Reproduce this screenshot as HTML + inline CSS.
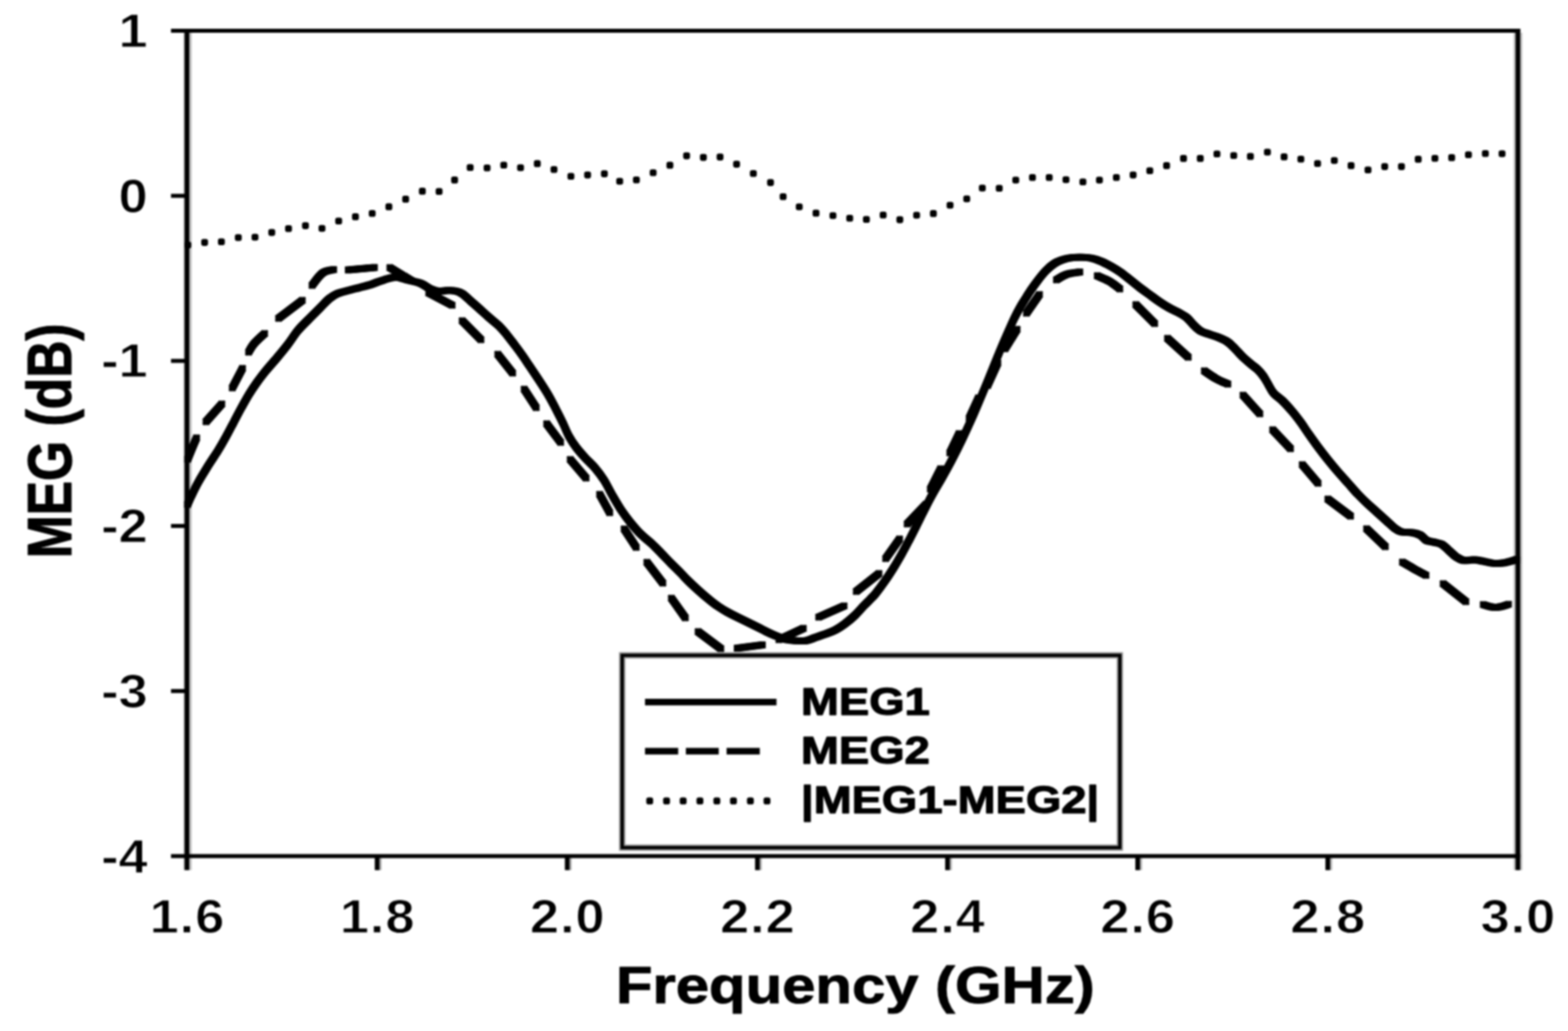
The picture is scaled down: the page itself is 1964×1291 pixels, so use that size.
<!DOCTYPE html>
<html lang="en"><head><meta charset="utf-8"><title>MEG vs Frequency</title>
<style>html,body{margin:0;padding:0;background:#fff;overflow:hidden}svg{display:block;filter:blur(1.1px)}text{font-family:"Liberation Sans", Arial, Helvetica, sans-serif;font-weight:bold;fill:#000}</style></head><body>
<svg xmlns="http://www.w3.org/2000/svg" width="1964" height="1291" viewBox="0 0 1964 1291">
<rect width="1964" height="1291" fill="#fff"/>
<g>
<rect x="229.7" y="41.0" width="10.5" height="1048.5" fill="#c4c4c4"/>
<rect x="1895.8" y="41.0" width="11.100000000000001" height="1048.5" fill="#c4c4c4"/>
<defs>
<g id="cv" fill="none" stroke="#000" stroke-width="3.2" stroke-linejoin="round" stroke-linecap="butt">
<path d="M234.4,633.0 C235.3,631.0 237.5,625.8 239.8,620.9 C242.1,616.1 245.0,609.8 248.4,603.7 C251.8,597.6 256.0,590.9 260.0,584.4 C264.0,577.9 268.8,571.0 272.6,565.0 C276.4,558.9 279.3,553.8 282.6,547.8 C285.9,541.9 289.1,535.7 292.4,529.4 C295.7,523.2 299.2,516.3 302.5,510.3 C305.8,504.4 308.9,498.7 312.0,493.6 C315.1,488.5 317.7,484.6 321.2,479.7 C324.7,474.9 328.4,469.9 332.8,464.5 C337.2,459.1 342.9,452.9 347.5,447.4 C352.1,441.9 356.1,437.1 360.4,431.5 C364.7,425.9 368.7,419.2 373.2,413.8 C377.7,408.4 382.7,403.8 387.3,399.1 C391.9,394.4 396.6,389.8 400.8,385.6 C405.0,381.4 408.8,376.9 412.4,374.0 C416.0,371.1 418.5,369.5 422.2,367.9 C425.9,366.3 430.0,365.4 434.4,364.2 C438.8,363.0 443.8,361.8 448.5,360.6 C453.2,359.4 458.2,358.2 462.6,356.9 C467.0,355.6 470.5,354.0 474.8,352.6 C479.1,351.2 484.4,349.2 488.3,348.3 C492.2,347.4 494.1,346.7 498.1,347.1 C502.1,347.6 507.4,349.7 512.2,351.0 C517.0,352.3 522.2,352.9 526.7,354.7 C531.2,356.5 535.7,360.3 539.5,362.0 C543.3,363.7 546.1,364.4 549.7,364.7 C553.3,365.0 557.7,363.6 561.2,363.6 C564.8,363.6 568.0,363.8 571.0,364.5 C574.0,365.2 576.5,366.1 579.5,368.1 C582.5,370.1 585.8,373.6 589.3,376.7 C592.8,379.8 596.5,383.0 600.4,386.5 C604.3,390.0 608.5,393.9 612.6,397.5 C616.7,401.1 621.1,404.3 624.8,407.9 C628.5,411.5 631.2,414.8 634.6,418.9 C638.0,423.0 641.5,427.8 645.0,432.4 C648.5,437.0 652.4,442.3 655.4,446.6 C658.4,450.9 659.9,453.4 663.3,458.4 C666.6,463.4 671.5,470.6 675.5,476.7 C679.5,482.8 683.5,489.0 687.1,495.1 C690.7,501.2 693.8,507.5 696.9,513.4 C700.0,519.3 702.9,525.1 705.5,530.6 C708.1,536.1 710.0,541.5 712.8,546.5 C715.5,551.5 718.5,555.9 722.0,560.5 C725.5,565.1 729.7,569.8 733.6,574.0 C737.5,578.2 741.5,581.5 745.3,586.0 C749.1,590.5 752.8,595.2 756.5,601.0 C760.2,606.8 763.8,614.6 767.5,621.0 C771.2,627.4 775.0,634.0 778.6,639.4 C782.2,644.8 785.0,648.5 789.0,653.4 C793.0,658.3 797.9,664.2 802.4,668.7 C806.9,673.2 811.6,676.4 815.9,680.4 C820.2,684.4 824.0,688.4 828.1,692.6 C832.2,696.8 836.3,701.2 840.4,705.4 C844.5,709.5 849.0,713.8 852.6,717.5 C856.2,721.2 858.6,723.9 862.2,727.5 C865.9,731.1 870.4,735.3 874.5,739.0 C878.6,742.7 882.6,746.2 886.7,749.5 C890.8,752.8 894.9,756.2 899.0,759.0 C903.1,761.8 907.1,764.2 911.2,766.5 C915.3,768.8 919.3,770.8 923.4,772.8 C927.5,774.8 931.6,776.7 935.7,778.7 C939.8,780.7 943.8,782.8 947.9,784.8 C952.0,786.8 956.0,789.0 960.1,791.0 C964.2,793.0 968.3,794.9 972.4,796.5 C976.5,798.1 980.5,799.8 984.6,800.8 C988.7,801.8 992.8,802.0 996.9,802.3 C1001.0,802.5 1005.0,803.0 1009.1,802.3 C1013.2,801.6 1017.2,799.7 1021.3,798.3 C1025.4,796.9 1029.5,795.5 1033.6,794.0 C1037.7,792.5 1041.7,791.2 1045.8,789.1 C1049.9,787.0 1054.0,784.2 1058.1,781.2 C1062.2,778.2 1066.2,774.9 1070.3,771.0 C1074.4,767.1 1079.2,761.4 1082.5,758.0 C1085.8,754.6 1087.6,753.0 1090.0,750.5 C1092.4,748.0 1093.9,746.8 1097.0,742.9 C1100.1,739.1 1104.9,732.7 1108.7,727.2 C1112.5,721.8 1116.2,716.0 1119.7,710.4 C1123.2,704.8 1126.2,699.5 1129.5,693.7 C1132.8,687.8 1136.2,681.3 1139.3,675.4 C1142.4,669.5 1145.1,664.1 1147.9,658.5 C1150.8,652.8 1153.8,646.7 1156.4,641.4 C1159.1,636.2 1161.3,631.5 1163.8,626.8 C1166.2,622.1 1168.5,618.0 1171.1,613.4 C1173.7,608.8 1175.8,605.5 1179.5,599.1 C1183.2,592.6 1188.7,582.8 1193.0,574.5 C1197.3,566.3 1201.5,558.0 1205.5,549.6 C1209.5,541.2 1213.5,532.4 1217.2,524.2 C1220.9,516.0 1224.0,508.5 1227.5,500.2 C1231.0,491.9 1234.6,483.0 1238.1,474.5 C1241.6,466.0 1245.3,456.5 1248.3,449.3 C1251.3,442.1 1253.4,436.9 1255.9,431.1 C1258.4,425.3 1260.8,419.9 1263.2,414.5 C1265.6,409.1 1268.1,403.3 1270.5,398.4 C1272.9,393.5 1275.3,389.0 1277.5,385.1 C1279.7,381.2 1281.4,378.7 1283.6,375.1 C1285.8,371.6 1288.1,367.9 1290.7,364.0 C1293.3,360.1 1296.1,356.0 1299.3,351.9 C1302.5,347.7 1306.5,342.6 1310.0,339.0 C1313.5,335.4 1316.8,332.6 1320.1,330.4 C1323.4,328.1 1326.4,326.8 1330.1,325.5 C1333.8,324.2 1338.3,323.2 1342.4,322.7 C1346.5,322.1 1350.5,322.1 1354.6,322.2 C1358.7,322.3 1362.8,322.5 1366.9,323.3 C1371.0,324.1 1375.0,325.5 1379.1,327.2 C1383.2,328.9 1387.2,331.1 1391.3,333.4 C1395.4,335.7 1399.5,338.1 1403.6,341.0 C1407.7,343.9 1411.7,347.4 1415.8,350.6 C1419.9,353.8 1424.0,357.3 1428.1,360.4 C1432.2,363.5 1436.3,366.4 1440.3,369.3 C1444.3,372.2 1448.2,375.1 1452.2,377.8 C1456.2,380.5 1460.4,383.2 1464.5,385.5 C1468.6,387.8 1473.0,389.6 1476.7,391.6 C1480.4,393.6 1483.5,395.2 1486.5,397.7 C1489.5,400.1 1491.7,403.5 1494.5,406.3 C1497.3,409.1 1500.2,412.3 1503.6,414.3 C1507.0,416.3 1510.8,417.1 1514.7,418.5 C1518.6,419.9 1523.0,421.2 1526.9,422.8 C1530.8,424.4 1534.5,426.0 1537.9,428.3 C1541.3,430.6 1544.0,433.8 1547.1,436.9 C1550.2,440.0 1553.1,443.6 1556.3,446.7 C1559.5,449.8 1562.9,452.6 1566.1,455.3 C1569.2,458.0 1572.5,460.0 1575.2,462.6 C1578.0,465.2 1580.3,468.0 1582.6,471.2 C1584.8,474.4 1586.6,478.1 1588.7,481.6 C1590.8,485.2 1592.4,489.1 1595.4,492.5 C1598.4,495.9 1602.7,498.3 1606.5,502.0 C1610.3,505.7 1614.2,510.1 1618.0,514.5 C1621.8,518.9 1625.3,523.5 1629.0,528.5 C1632.7,533.5 1636.2,539.2 1640.0,544.5 C1643.8,549.8 1647.6,555.2 1651.5,560.5 C1655.4,565.8 1659.4,570.9 1663.5,576.0 C1667.6,581.1 1671.8,586.2 1676.0,591.0 C1680.2,595.8 1684.4,600.4 1688.5,605.0 C1692.6,609.6 1696.5,614.3 1700.5,618.5 C1704.5,622.7 1708.2,626.4 1712.2,630.2 C1716.2,634.0 1720.4,637.5 1724.5,641.2 C1728.6,644.9 1732.8,648.7 1736.7,652.2 C1740.6,655.7 1744.4,659.6 1747.7,662.0 C1751.0,664.4 1752.8,665.5 1756.3,666.3 C1759.8,667.1 1764.7,666.3 1768.5,666.9 C1772.3,667.5 1775.8,668.4 1778.9,670.0 C1782.0,671.6 1783.9,675.2 1786.9,676.7 C1789.9,678.2 1793.5,678.3 1796.7,679.1 C1799.9,679.9 1803.0,680.0 1805.9,681.6 C1808.9,683.2 1811.4,686.2 1814.4,688.9 C1817.5,691.5 1821.0,695.4 1824.2,697.5 C1827.4,699.6 1829.6,701.2 1833.4,701.8 C1837.2,702.4 1842.6,700.7 1846.9,700.9 C1851.2,701.1 1855.0,702.2 1859.1,703.0 C1863.2,703.8 1867.2,705.2 1871.3,705.5 C1875.4,705.8 1879.5,705.4 1883.6,704.8 C1887.7,704.2 1892.8,702.6 1895.8,701.8 C1898.8,701.0 1900.4,700.3 1901.3,700.0"/>
<path d="M234.6,576.4 C235.6,574.0 238.4,567.0 240.4,562.1 C242.4,557.2 245.7,549.5 246.8,547.0"/>
<path d="M257.1,529.1 L278.8,504.8"/>
<path d="M290.3,486.9 L304.4,460.1"/>
<path d="M310.7,442.2 C311.9,440.2 314.6,434.7 318.2,430.4 C321.8,426.1 330.1,418.9 332.5,416.6"/>
<path d="M347.8,399.5 L379.8,375.2"/>
<path d="M390.0,358.6 C392.3,355.8 399.1,345.4 404.0,341.9 C408.9,338.3 416.8,338.1 419.4,337.3"/>
<path d="M434.7,338.1 L470.5,334.8"/>
<path d="M487.1,334.3 L516.5,352.2"/>
<path d="M535.7,366.2 L567.6,382.8"/>
<path d="M577.9,400.7 L603.4,426.3"/>
<path d="M622.6,442.6 L643.0,468.2"/>
<path d="M655.8,486.1 L672.4,511.6"/>
<path d="M683.9,529.5 L703.1,555.1"/>
<path d="M713.3,574.3 L735.0,599.8"/>
<path d="M750.4,617.7 L764.4,643.3"/>
<path d="M781.0,661.2 L797.7,686.7"/>
<path d="M809.4,703.1 L831.1,731.3"/>
<path d="M840.1,747.9 L859.2,774.7"/>
<path d="M873.3,790.1 L904.0,813.1"/>
<path d="M921.9,811.8 L956.4,807.4"/>
<path d="M974.3,801.6 L1007.5,786.2"/>
<path d="M1024.1,773.4 L1058.6,758.1"/>
<path d="M1071.4,741.5 L1102.1,717.2"/>
<path d="M1108.5,700.6 L1127.6,673.8"/>
<path d="M1135.3,657.1 L1160.9,630.3"/>
<path d="M1164.7,613.7 L1178.8,585.6"/>
<path d="M1189.1,568.4 L1201.9,541.6"/>
<path d="M1213.4,524.9 L1226.2,496.8"/>
<path d="M1236.4,484.0 L1250.4,453.4"/>
<path d="M1258.1,438.0 L1274.7,411.2"/>
<path d="M1284.9,393.3 L1302.8,367.7"/>
<path d="M1322.0,351.1 C1324.3,349.8 1330.8,345.3 1336.1,343.5 C1341.4,341.7 1351.0,340.9 1354.0,340.4"/>
<path d="M1373.1,344.7 C1375.9,346.0 1384.7,349.4 1389.8,352.4 C1394.9,355.4 1401.5,360.9 1403.8,362.6"/>
<path d="M1421.7,380.5 L1447.3,406.1"/>
<path d="M1461.3,422.7 L1489.4,448.3"/>
<path d="M1507.3,463.6 C1509.9,465.3 1517.4,470.8 1522.7,473.8 C1528.0,476.8 1536.5,480.2 1539.3,481.5"/>
<path d="M1556.0,493.8 L1579.0,519.3"/>
<path d="M1593.1,537.2 L1617.4,562.8"/>
<path d="M1630.2,580.7 L1651.9,606.2"/>
<path d="M1662.1,624.1 L1692.8,647.1"/>
<path d="M1710.7,661.2 L1736.2,685.5"/>
<path d="M1755.4,703.1 C1758.0,704.6 1765.4,709.1 1770.7,712.1 C1776.0,715.1 1784.6,719.5 1787.4,721.0"/>
<path d="M1806.5,730.0 L1837.2,754.3"/>
<path d="M1856.4,756.8 C1859.2,757.4 1867.2,760.8 1873.0,760.7 C1878.8,760.6 1887.9,757.0 1890.9,756.3"/>
</g>
</defs>
<use href="#cv" x="-2.75" y="-2.75"/>
<use href="#cv" x="-2.75" y="0.0"/>
<use href="#cv" x="-2.75" y="2.75"/>
<use href="#cv" x="0.0" y="-2.75"/>
<use href="#cv" x="0.0" y="0.0"/>
<use href="#cv" x="0.0" y="2.75"/>
<use href="#cv" x="2.75" y="-2.75"/>
<use href="#cv" x="2.75" y="0.0"/>
<use href="#cv" x="2.75" y="2.75"/>
<g fill="#000">
<rect x="231.0" y="302.4" width="8.6" height="8.6" rx="2.8"/>
<rect x="252.0" y="299.3" width="8.6" height="8.6" rx="2.8"/>
<rect x="273.0" y="298.5" width="8.6" height="8.6" rx="2.8"/>
<rect x="294.2" y="293.2" width="8.6" height="8.6" rx="2.8"/>
<rect x="315.1" y="292.7" width="8.6" height="8.6" rx="2.8"/>
<rect x="336.1" y="286.8" width="8.6" height="8.6" rx="2.8"/>
<rect x="357.1" y="281.9" width="8.6" height="8.6" rx="2.8"/>
<rect x="378.3" y="278.3" width="8.6" height="8.6" rx="2.8"/>
<rect x="399.0" y="281.7" width="8.6" height="8.6" rx="2.8"/>
<rect x="419.9" y="272.5" width="8.6" height="8.6" rx="2.8"/>
<rect x="440.9" y="267.1" width="8.6" height="8.6" rx="2.8"/>
<rect x="461.9" y="263.0" width="8.6" height="8.6" rx="2.8"/>
<rect x="482.8" y="254.6" width="8.6" height="8.6" rx="2.8"/>
<rect x="503.8" y="245.1" width="8.6" height="8.6" rx="2.8"/>
<rect x="524.7" y="235.1" width="8.6" height="8.6" rx="2.8"/>
<rect x="545.7" y="235.4" width="8.6" height="8.6" rx="2.8"/>
<rect x="565.1" y="221.1" width="8.6" height="8.6" rx="2.8"/>
<rect x="584.6" y="205.5" width="8.6" height="8.6" rx="2.8"/>
<rect x="605.8" y="206.0" width="8.6" height="8.6" rx="2.8"/>
<rect x="626.7" y="202.4" width="8.6" height="8.6" rx="2.8"/>
<rect x="647.7" y="205.7" width="8.6" height="8.6" rx="2.8"/>
<rect x="668.7" y="200.6" width="8.6" height="8.6" rx="2.8"/>
<rect x="689.6" y="208.0" width="8.6" height="8.6" rx="2.8"/>
<rect x="710.8" y="216.5" width="8.6" height="8.6" rx="2.8"/>
<rect x="731.7" y="214.8" width="8.6" height="8.6" rx="2.8"/>
<rect x="752.7" y="213.3" width="8.6" height="8.6" rx="2.8"/>
<rect x="771.9" y="222.7" width="8.6" height="8.6" rx="2.8"/>
<rect x="792.8" y="221.0" width="8.6" height="8.6" rx="2.8"/>
<rect x="813.8" y="212.0" width="8.6" height="8.6" rx="2.8"/>
<rect x="834.8" y="202.6" width="8.6" height="8.6" rx="2.8"/>
<rect x="855.7" y="190.8" width="8.6" height="8.6" rx="2.8"/>
<rect x="876.7" y="192.8" width="8.6" height="8.6" rx="2.8"/>
<rect x="897.6" y="192.3" width="8.6" height="8.6" rx="2.8"/>
<rect x="918.3" y="201.3" width="8.6" height="8.6" rx="2.8"/>
<rect x="939.3" y="213.0" width="8.6" height="8.6" rx="2.8"/>
<rect x="960.8" y="224.3" width="8.6" height="8.6" rx="2.8"/>
<rect x="976.6" y="241.9" width="8.6" height="8.6" rx="2.8"/>
<rect x="996.8" y="254.7" width="8.6" height="8.6" rx="2.8"/>
<rect x="1017.8" y="262.6" width="8.6" height="8.6" rx="2.8"/>
<rect x="1039.0" y="265.7" width="8.6" height="8.6" rx="2.8"/>
<rect x="1060.0" y="269.0" width="8.6" height="8.6" rx="2.8"/>
<rect x="1080.9" y="270.5" width="8.6" height="8.6" rx="2.8"/>
<rect x="1101.9" y="264.9" width="8.6" height="8.6" rx="2.8"/>
<rect x="1122.8" y="270.8" width="8.6" height="8.6" rx="2.8"/>
<rect x="1143.8" y="265.2" width="8.6" height="8.6" rx="2.8"/>
<rect x="1164.8" y="263.1" width="8.6" height="8.6" rx="2.8"/>
<rect x="1185.7" y="252.7" width="8.6" height="8.6" rx="2.8"/>
<rect x="1206.6" y="244.7" width="8.6" height="8.6" rx="2.8"/>
<rect x="1226.1" y="231.2" width="8.6" height="8.6" rx="2.8"/>
<rect x="1247.3" y="231.4" width="8.6" height="8.6" rx="2.8"/>
<rect x="1268.0" y="221.2" width="8.6" height="8.6" rx="2.8"/>
<rect x="1288.9" y="217.9" width="8.6" height="8.6" rx="2.8"/>
<rect x="1309.9" y="217.9" width="8.6" height="8.6" rx="2.8"/>
<rect x="1330.9" y="220.7" width="8.6" height="8.6" rx="2.8"/>
<rect x="1352.1" y="223.5" width="8.6" height="8.6" rx="2.8"/>
<rect x="1372.8" y="221.2" width="8.6" height="8.6" rx="2.8"/>
<rect x="1394.0" y="217.9" width="8.6" height="8.6" rx="2.8"/>
<rect x="1415.0" y="214.8" width="8.6" height="8.6" rx="2.8"/>
<rect x="1435.9" y="209.5" width="8.6" height="8.6" rx="2.8"/>
<rect x="1456.9" y="203.1" width="8.6" height="8.6" rx="2.8"/>
<rect x="1478.1" y="194.1" width="8.6" height="8.6" rx="2.8"/>
<rect x="1499.1" y="194.1" width="8.6" height="8.6" rx="2.8"/>
<rect x="1520.0" y="188.5" width="8.6" height="8.6" rx="2.8"/>
<rect x="1541.0" y="190.5" width="8.6" height="8.6" rx="2.8"/>
<rect x="1561.9" y="191.6" width="8.6" height="8.6" rx="2.8"/>
<rect x="1583.2" y="186.2" width="8.6" height="8.6" rx="2.8"/>
<rect x="1604.1" y="192.1" width="8.6" height="8.6" rx="2.8"/>
<rect x="1625.1" y="194.9" width="8.6" height="8.6" rx="2.8"/>
<rect x="1646.0" y="200.5" width="8.6" height="8.6" rx="2.8"/>
<rect x="1667.0" y="196.7" width="8.6" height="8.6" rx="2.8"/>
<rect x="1688.0" y="203.1" width="8.6" height="8.6" rx="2.8"/>
<rect x="1709.2" y="208.4" width="8.6" height="8.6" rx="2.8"/>
<rect x="1730.1" y="204.3" width="8.6" height="8.6" rx="2.8"/>
<rect x="1751.1" y="204.3" width="8.6" height="8.6" rx="2.8"/>
<rect x="1772.1" y="195.1" width="8.6" height="8.6" rx="2.8"/>
<rect x="1793.0" y="193.9" width="8.6" height="8.6" rx="2.8"/>
<rect x="1814.0" y="193.1" width="8.6" height="8.6" rx="2.8"/>
<rect x="1835.0" y="189.5" width="8.6" height="8.6" rx="2.8"/>
<rect x="1856.2" y="188.0" width="8.6" height="8.6" rx="2.8"/>
<rect x="1877.1" y="188.2" width="8.6" height="8.6" rx="2.8"/>
</g>
<rect x="779.3" y="820.6" width="623.4000000000001" height="240.80000000000007" fill="#fff" stroke="#9a9a9a" stroke-width="8.0"/>
<rect x="779.3" y="820.6" width="623.4000000000001" height="240.80000000000007" fill="none" stroke="#000" stroke-width="4.2"/>
<line x1="807.9" y1="879.1" x2="972.6" y2="879.1" stroke="#000" stroke-width="8.2"/>
<line x1="807.9" y1="940.7" x2="849.5" y2="940.7" stroke="#000" stroke-width="8.2"/>
<line x1="859.1" y1="940.7" x2="900.3" y2="940.7" stroke="#000" stroke-width="8.2"/>
<line x1="910.1" y1="940.7" x2="951.7" y2="940.7" stroke="#000" stroke-width="8.2"/>
<rect x="809.5" y="998.6" width="8.6" height="8.6" rx="2.8"/>
<rect x="830.6" y="998.6" width="8.6" height="8.6" rx="2.8"/>
<rect x="851.4" y="998.6" width="8.6" height="8.6" rx="2.8"/>
<rect x="872.4" y="998.6" width="8.6" height="8.6" rx="2.8"/>
<rect x="893.6" y="998.6" width="8.6" height="8.6" rx="2.8"/>
<rect x="914.4" y="998.6" width="8.6" height="8.6" rx="2.8"/>
<rect x="935.6" y="998.6" width="8.6" height="8.6" rx="2.8"/>
<rect x="956.4" y="998.6" width="8.6" height="8.6" rx="2.8"/>
<g fill="#000">
<rect x="469.5" y="1072.0" width="8.4" height="17.5" fill="#b0b0b0"/>
<rect x="707.6" y="1072.0" width="8.4" height="17.5" fill="#b0b0b0"/>
<rect x="945.8" y="1072.0" width="8.4" height="17.5" fill="#b0b0b0"/>
<rect x="1183.9" y="1072.0" width="8.4" height="17.5" fill="#b0b0b0"/>
<rect x="1422.1" y="1072.0" width="8.4" height="17.5" fill="#b0b0b0"/>
<rect x="1660.2" y="1072.0" width="8.4" height="17.5" fill="#b0b0b0"/>
<rect x="214.2" y="36.0" width="1690.0" height="5.0"/>
<rect x="214.2" y="1069.5" width="1690.0" height="5.0"/>
<rect x="231.2" y="36.0" width="5.9" height="1053.5"/>
<rect x="1898.3" y="36.0" width="5.9" height="1053.5"/>
<rect x="214.2" y="242.7" width="20" height="5.0"/>
<rect x="214.2" y="449.4" width="20" height="5.0"/>
<rect x="214.2" y="656.1" width="20" height="5.0"/>
<rect x="214.2" y="862.8" width="20" height="5.0"/>
<rect x="469.5" y="1072.0" width="5.8" height="17.5"/>
<rect x="707.6" y="1072.0" width="5.8" height="17.5"/>
<rect x="945.8" y="1072.0" width="5.8" height="17.5"/>
<rect x="1183.9" y="1072.0" width="5.8" height="17.5"/>
<rect x="1422.1" y="1072.0" width="5.8" height="17.5"/>
<rect x="1660.2" y="1072.0" width="5.8" height="17.5"/>
</g>
<text transform="translate(184.9,59.0) scale(1.092,1)" font-size="60" text-anchor="end" stroke="#fff" stroke-width="1.0" stroke-linejoin="round">1</text>
<text transform="translate(184.9,265.7) scale(1.092,1)" font-size="60" text-anchor="end" stroke="#fff" stroke-width="1.0" stroke-linejoin="round">0</text>
<text transform="translate(184.9,472.4) scale(1.092,1)" font-size="60" text-anchor="end" stroke="#fff" stroke-width="1.0" stroke-linejoin="round">-1</text>
<text transform="translate(184.9,679.1) scale(1.092,1)" font-size="60" text-anchor="end" stroke="#fff" stroke-width="1.0" stroke-linejoin="round">-2</text>
<text transform="translate(184.9,885.8) scale(1.092,1)" font-size="60" text-anchor="end" stroke="#fff" stroke-width="1.0" stroke-linejoin="round">-3</text>
<text transform="translate(184.9,1092.5) scale(1.092,1)" font-size="60" text-anchor="end" stroke="#fff" stroke-width="1.0" stroke-linejoin="round">-4</text>
<text transform="translate(234.8,1167.5) scale(1.092,1)" font-size="60" text-anchor="middle" letter-spacing="1.1" stroke="#fff" stroke-width="1.0" stroke-linejoin="round">1.6</text>
<text transform="translate(473.0,1167.5) scale(1.092,1)" font-size="60" text-anchor="middle" letter-spacing="1.1" stroke="#fff" stroke-width="1.0" stroke-linejoin="round">1.8</text>
<text transform="translate(711.1,1167.5) scale(1.092,1)" font-size="60" text-anchor="middle" letter-spacing="1.1" stroke="#fff" stroke-width="1.0" stroke-linejoin="round">2.0</text>
<text transform="translate(949.3,1167.5) scale(1.092,1)" font-size="60" text-anchor="middle" letter-spacing="1.1" stroke="#fff" stroke-width="1.0" stroke-linejoin="round">2.2</text>
<text transform="translate(1187.4,1167.5) scale(1.092,1)" font-size="60" text-anchor="middle" letter-spacing="1.1" stroke="#fff" stroke-width="1.0" stroke-linejoin="round">2.4</text>
<text transform="translate(1425.6,1167.5) scale(1.092,1)" font-size="60" text-anchor="middle" letter-spacing="1.1" stroke="#fff" stroke-width="1.0" stroke-linejoin="round">2.6</text>
<text transform="translate(1663.7,1167.5) scale(1.092,1)" font-size="60" text-anchor="middle" letter-spacing="1.1" stroke="#fff" stroke-width="1.0" stroke-linejoin="round">2.8</text>
<text transform="translate(1901.9,1167.5) scale(1.092,1)" font-size="60" text-anchor="middle" letter-spacing="1.1" stroke="#fff" stroke-width="1.0" stroke-linejoin="round">3.0</text>
<text transform="translate(1071.3,1255.5) scale(1.141,1)" font-size="65.7" text-anchor="middle" stroke="#000" stroke-width="1.1" stroke-linejoin="round">Frequency (GHz)</text>
<text transform="translate(1003.3,894.5) scale(1.162,1)" font-size="49" text-anchor="start" stroke="#000" stroke-width="1.4" stroke-linejoin="round">MEG1</text>
<text transform="translate(1003.3,956.0) scale(1.162,1)" font-size="49" text-anchor="start" stroke="#000" stroke-width="1.4" stroke-linejoin="round">MEG2</text>
<text transform="translate(1003.3,1018.3) scale(1.162,1)" font-size="49" text-anchor="start" stroke="#000" stroke-width="1.4" stroke-linejoin="round">|MEG1-MEG2|</text>
<text transform="translate(88.8,552.0) scale(1.2,1) rotate(-90)" font-size="64.6" text-anchor="middle" stroke="#000" stroke-width="1.1" stroke-linejoin="round">MEG (dB)</text>
</g>
</svg></body></html>
